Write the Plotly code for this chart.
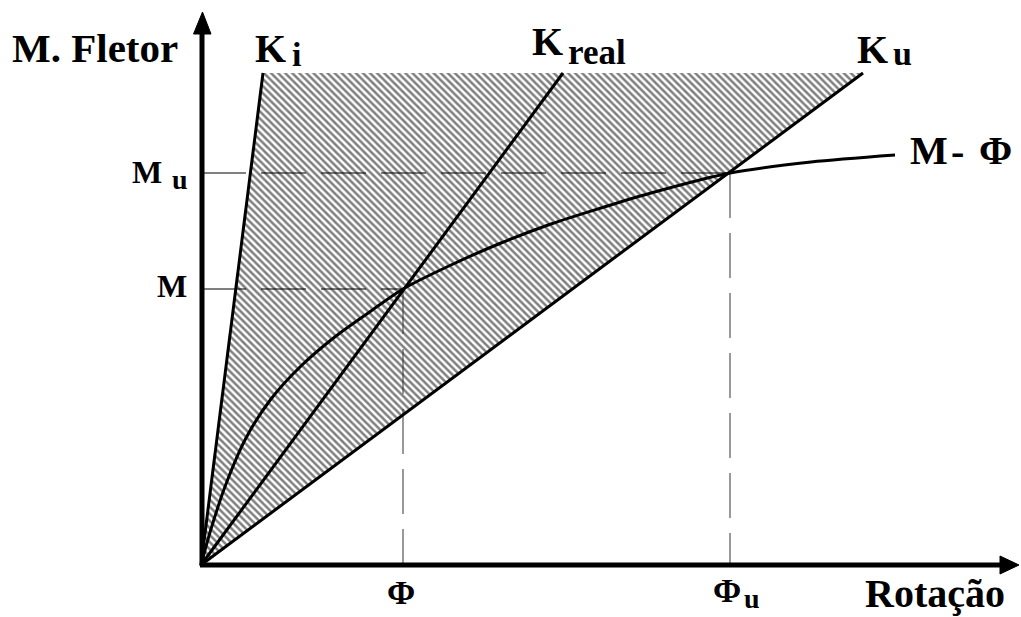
import plotly.graph_objects as go

# ---- data (rotation, moment) in chart units ----
curve_rot = [0, 10, 25, 45, 70, 100, 135, 170, 202, 250, 300, 350, 400, 450, 529, 610, 694]
curve_mom = [0, 36, 81, 127, 166, 199, 229, 254, 276, 300, 322, 341, 357, 372, 392, 403, 410]

top_moment = 492            # upper limit of the stiffness lines
stiff_names = ["Ki", "Kreal", "Ku"]
stiff_rot_at_top = [62, 362, 662]

phi_point = [202, 529]      # Φ, Φu
mom_point = [276, 392]      # M, Mu

x_axis_end = 818
y_axis_end = 553

FONT = "Liberation Serif, Times New Roman, serif"
BLACK = "#000000"

fig = go.Figure()

# hatched region between Ki and Ku
fig.add_trace(go.Scatter(
    x=[0, stiff_rot_at_top[0], stiff_rot_at_top[2], 0],
    y=[0, top_moment, top_moment, 0],
    mode="lines", fill="toself", line=dict(width=0, color="rgba(0,0,0,0)"),
    fillcolor="white",
    fillpattern=dict(shape="\\", size=5, solidity=0.5, fgcolor=BLACK, bgcolor="white"),
    hoverinfo="skip", showlegend=False))

# dashed guide lines
for px_, my_ in zip(phi_point, mom_point):
    fig.add_trace(go.Scatter(x=[0, px_], y=[my_, my_], mode="lines",
                             line=dict(color=BLACK, width=1, dash="45px,15px"),
                             hoverinfo="skip", showlegend=False))
    fig.add_trace(go.Scatter(x=[px_, px_], y=[my_, 0], mode="lines",
                             line=dict(color="#333", width=1, dash="45px,15px"),
                             hoverinfo="skip", showlegend=False))

# stiffness lines
for xr in stiff_rot_at_top:
    fig.add_trace(go.Scatter(x=[0, xr], y=[0, top_moment], mode="lines",
                             line=dict(color=BLACK, width=3),
                             hoverinfo="skip", showlegend=False))

# M-Phi curve
fig.add_trace(go.Scatter(x=curve_rot, y=curve_mom, mode="lines",
                         line=dict(color=BLACK, width=3, shape="spline", smoothing=0.8),
                         hoverinfo="skip", showlegend=False))

shapes = [
    dict(type="line", x0=-1, y0=0, x1=x_axis_end - 18, y1=0, line=dict(color=BLACK, width=5)),
    dict(type="line", x0=1, y0=-1, x1=1, y1=y_axis_end - 21, line=dict(color=BLACK, width=5)),
    dict(type="path",
         path=f"M {x_axis_end-19},-9 L {x_axis_end},0 L {x_axis_end-19},9 Z",
         fillcolor=BLACK, line=dict(color=BLACK, width=1)),
    dict(type="path",
         path=f"M -7.5,{y_axis_end-22} L 1.5,{y_axis_end} L 10,{y_axis_end-22} Z",
         fillcolor=BLACK, line=dict(color=BLACK, width=1)),
]

annotations = []


def lab(text, px, py, size, anchor="left"):
    annotations.append(dict(
        text=text, x=px - 201, y=565 - py, xref="x", yref="y",
        xanchor=anchor, yanchor="middle", showarrow=False,
        font=dict(family=FONT, size=size, color=BLACK, weight="bold")))


lab("M. Fletor", 95, 48, 41, "center")
lab("K", 253, 48, 40)
lab("i", 290, 54, 34)
lab("K", 530, 41, 40)
lab("real", 566, 52, 35)
lab("K", 855, 49, 40)
lab("u", 891, 53, 34)
lab("M", 908, 150, 40)
lab("-", 949, 151, 40)
lab("Φ", 977, 150, 40)
lab("M", 130, 172, 32)
lab("u", 170, 179, 28)
lab("M", 155, 286, 32)
lab("Φ", 401, 592, 34, "center")
lab("Φ", 711, 590, 34)
lab("u", 742, 598, 28)
lab("Rotação", 863, 593, 40)

fig.update_layout(
    width=1021, height=617,
    margin=dict(l=0, r=0, t=0, b=0),
    paper_bgcolor="white", plot_bgcolor="white",
    xaxis=dict(range=[-201, 820], visible=False, fixedrange=True),
    yaxis=dict(range=[-52, 565], visible=False, fixedrange=True),
    shapes=shapes, annotations=annotations, showlegend=False)

fig.write_html("out.html",
               config={"displayModeBar": False},
               post_script="document.body.style.margin='0';document.body.style.overflow='hidden';")
